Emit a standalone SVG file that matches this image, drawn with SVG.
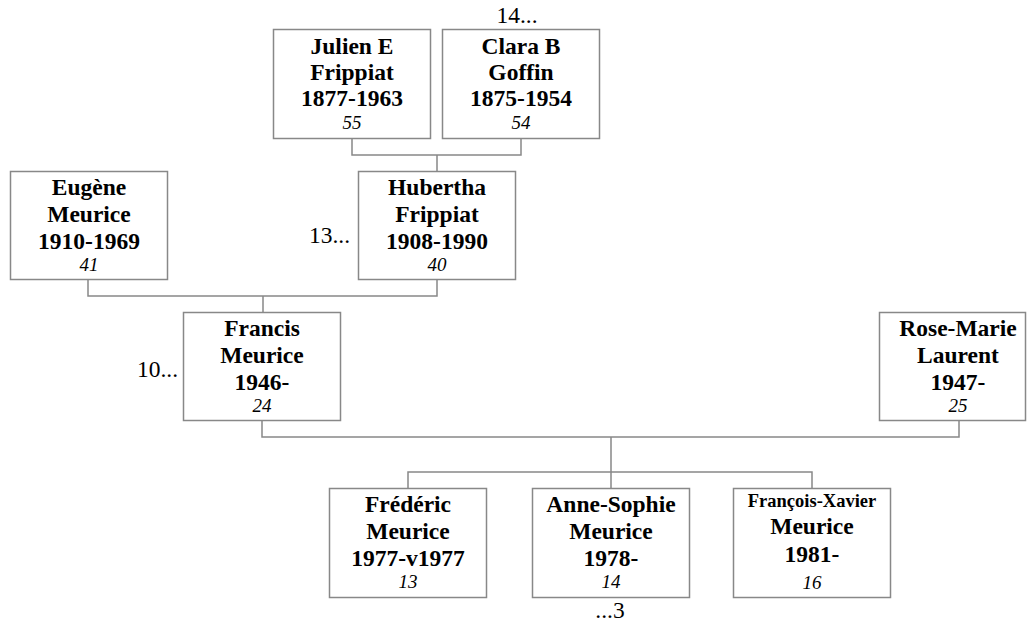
<svg xmlns="http://www.w3.org/2000/svg" width="1027" height="628" viewBox="0 0 1027 628">
<style>
rect.box{fill:#fff;stroke:#888;stroke-width:1.5}
.c path{fill:none;stroke:#888;stroke-width:1.5}
text{font-family:"Liberation Serif","Times New Roman",serif;fill:#000;text-anchor:middle}
.n{font-weight:bold;font-size:23.5px}
.s{font-weight:bold;font-size:18.5px}
.a{font-style:italic;font-size:19px}
.l{font-size:23.5px}
</style>
<rect width="1027" height="628" fill="#fff"/>
<g class="c" id="connectors">
<path d="M352 139V155H521V139M437 155V171"/>
<path d="M88 280V296H437V280M263 296V312"/>
<path d="M262 421V437H959V421M611 437V472M408 488V472H812V488M611 472V488"/>
</g>
<g id="julien"><rect class="box" x="273.5" y="29.5" width="157" height="109"/>
<text class="n" x="352" y="54">Julien E</text><text class="n" x="352" y="80">Frippiat</text><text class="n" x="352" y="106">1877-1963</text><text class="a" x="352" y="129">55</text></g>
<g id="clara"><rect class="box" x="442.5" y="29.5" width="157" height="109"/>
<text class="n" x="521" y="54">Clara B</text><text class="n" x="521" y="80">Goffin</text><text class="n" x="521" y="106">1875-1954</text><text class="a" x="521" y="129">54</text></g>
<text class="l" x="517" y="23">14...</text>
<g id="eugene"><rect class="box" x="10.5" y="171.5" width="157" height="108"/>
<text class="n" x="89" y="195">Eugène</text><text class="n" x="89" y="222">Meurice</text><text class="n" x="89" y="249">1910-1969</text><text class="a" x="89" y="271">41</text></g>
<g id="hubertha"><rect class="box" x="358.5" y="171.5" width="157" height="108"/>
<text class="n" x="437" y="195">Hubertha</text><text class="n" x="437" y="222">Frippiat</text><text class="n" x="437" y="249">1908-1990</text><text class="a" x="437" y="271">40</text></g>
<text class="l" x="350" y="243" style="text-anchor:end">13...</text>
<g id="francis"><rect class="box" x="183.5" y="312.5" width="157" height="108"/>
<text class="n" x="262" y="336">Francis</text><text class="n" x="262" y="363">Meurice</text><text class="n" x="262" y="390">1946-</text><text class="a" x="262" y="412">24</text></g>
<text class="l" x="178" y="377" style="text-anchor:end">10...</text>
<g id="rosemarie"><rect class="box" x="879.5" y="312.5" width="146" height="108"/>
<text class="n" x="958" y="336">Rose-Marie</text><text class="n" x="958" y="363">Laurent</text><text class="n" x="958" y="390">1947-</text><text class="a" x="958" y="412">25</text></g>
<g id="frederic"><rect class="box" x="329.5" y="488.5" width="157" height="109"/>
<text class="n" x="408" y="512">Frédéric</text><text class="n" x="408" y="539">Meurice</text><text class="n" x="408" y="566">1977-v1977</text><text class="a" x="408" y="588">13</text></g>
<g id="annesophie"><rect class="box" x="532.5" y="488.5" width="157" height="109"/>
<text class="n" x="611" y="512">Anne-Sophie</text><text class="n" x="611" y="539">Meurice</text><text class="n" x="611" y="566">1978-</text><text class="a" x="611" y="588">14</text></g>
<text class="l" x="610" y="618">...3</text>
<g id="francoisxavier"><rect class="box" x="733.5" y="488.5" width="157" height="109"/>
<text class="s" x="812" y="507">François-Xavier</text><text class="n" x="812" y="534">Meurice</text><text class="n" x="812" y="562">1981-</text><text class="a" x="812" y="589">16</text></g>
</svg>
